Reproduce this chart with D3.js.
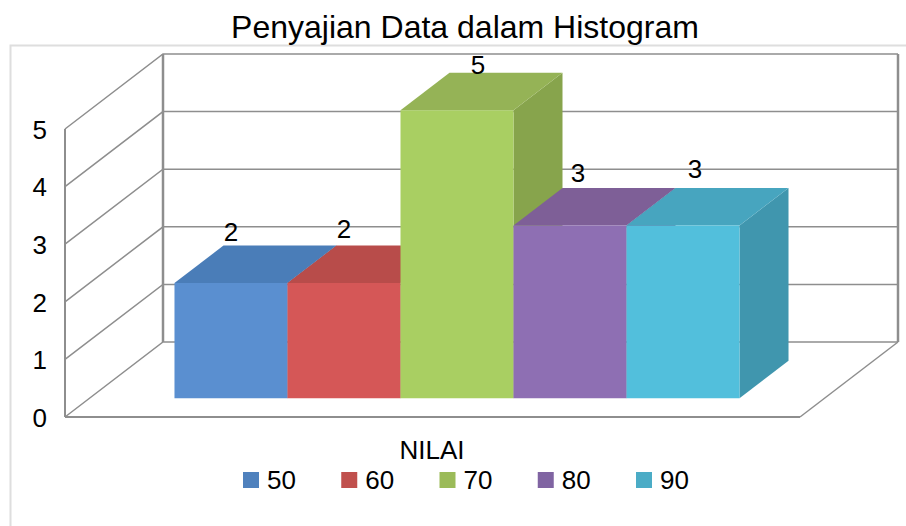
<!DOCTYPE html>
<html>
<head>
  <meta charset="utf-8" />
  <title>Penyajian Data dalam Histogram</title>
  <script src="https://cdnjs.cloudflare.com/ajax/libs/d3/7.8.5/d3.min.js"></script>
  <style>
    html, body { margin: 0; padding: 0; background: #fff; }
    svg { display: block; font-family: "Liberation Sans", Arial, sans-serif; }
    text { fill: #000; }
  </style>
</head>
<body>
  <svg id="chart" width="906" height="526"></svg>
  <script>
    const title = 'Penyajian Data dalam Histogram'
    const axisTitle = 'NILAI'
    const categories = ['50', '60', '70', '80', '90']
    const values = [2, 2, 5, 3, 3]
    const yTicks = [0, 1, 2, 3, 4, 5]

    const frontColors = ['#5a8fd0', '#d55757', '#a9cf62', '#8e6fb3', '#52bfdc']
    const topColors = ['#4a7db8', '#b84c4a', '#95b356', '#7e5f97', '#47a5bf']
    const sideColors = ['#426fa3', '#a34240', '#87a44c', '#705487', '#4096ae']
    const legendColors = ['#4f81bd', '#c0504d', '#9bbb59', '#8064a2', '#4bacc6']

    const svg = d3.select('#chart')

    // floor corner and the shift that takes the front plane to the back wall
    const originX = 65, originY = 417
    const floorWidth = 735
    const depthX = 98, depthY = -75
    const barDepthFrom = 0.25, barDepthTo = 0.75

    const x = d3.scaleBand().domain(categories).range([0, floorWidth]).paddingInner(0).paddingOuter(0.752)
    const y = d3.scaleLinear().domain([0, 5]).range([0, -288])

    // px = position along floor, v = value, d = depth 0 (front) to 1 (back)
    function project(px, v, d) {
      return [originX + px + depthX * d, originY + y(v) + depthY * d]
    }
    const poly = pts => 'M' + pts.map(p => p.join(',')).join('L') + 'Z'

    // outer frame
    svg.append('path')
      .attr('d', 'M10.5,526V45.5H906')
      .style('fill', 'none')
      .style('stroke', '#dedede')
      .style('stroke-width', 2)

    svg.append('text')
      .attr('x', 465).attr('y', 38)
      .attr('text-anchor', 'middle')
      .style('font-size', '32px')
      .text(title)

    // walls and floor
    const grey = '#8e8e8e'
    const walls = svg.append('g').attr('class', 'walls').style('fill', 'none').style('stroke', grey)

    walls.selectAll('path.grid')
      .data(yTicks)
      .enter()
      .append('path')
      .attr('class', 'grid')
      .attr('d', function(t) {
        const a = project(0, t, 0), b = project(0, t, 1), c = project(floorWidth, t, 1)
        return 'M' + [a, b, c].map(p => p.join(',')).join('L')
      })
      .style('stroke-width', 1.5)

    const wallLines = [
      [project(0, 0, 0), project(0, 5, 0), 2],
      [project(0, 0, 1), project(0, 5, 1), 2.5],
      [project(floorWidth, 0, 1), project(floorWidth, 5, 1), 2.5],
      [project(0, 0, 0), project(floorWidth, 0, 0), 2],
      [project(floorWidth, 0, 0), project(floorWidth, 0, 1), 1.5]
    ]
    walls.selectAll('line.edge')
      .data(wallLines)
      .enter()
      .append('line')
      .attr('class', 'edge')
      .attr('x1', d => d[0][0])
      .attr('y1', d => d[0][1])
      .attr('x2', d => d[1][0])
      .attr('y2', d => d[1][1])
      .style('stroke-width', d => d[2])

    // y axis, labels only
    const yAxis = d3.axisLeft(y).tickValues(yTicks).tickSize(0).tickPadding(18).tickFormat(d3.format('d'))
    const yAxisG = svg.append('g')
      .attr('transform', 'translate(' + originX + ',' + (originY + 1) + ')')
      .call(yAxis)
    yAxisG.select('path.domain').remove()
    yAxisG.selectAll('text')
      .style('font-size', '26px')
      .style('font-family', '"Liberation Sans", Arial, sans-serif')
      .style('fill', '#000')

    // bars, left to right so the next one covers the side of the one before
    const bars = svg.selectAll('g.bar')
      .data(categories)
      .enter()
      .append('g')
      .attr('class', 'bar')

    bars.each(function(c, i) {
      const g = d3.select(this)
      const x0 = x(c), x1 = x(c) + x.bandwidth(), v = values[i]
      const d0 = barDepthFrom, d1 = barDepthTo
      g.append('path')
        .attr('d', poly([project(x1, 0, d0), project(x1, 0, d1), project(x1, v, d1), project(x1, v, d0)]))
        .style('fill', sideColors[i])
      g.append('path')
        .attr('d', poly([project(x0, v, d0), project(x0, v, d1), project(x1, v, d1), project(x1, v, d0)]))
        .style('fill', topColors[i])
      g.append('path')
        .attr('d', poly([project(x0, 0, d0), project(x1, 0, d0), project(x1, v, d0), project(x0, v, d0)]))
        .style('fill', frontColors[i])
    })

    // data labels sit by hand in the original, so each has its own nudge
    const labelNudge = [[0, -42], [0, -45], [21, -36], [8, -43], [12, -47]]
    svg.selectAll('text.value')
      .data(values)
      .enter()
      .append('text')
      .attr('class', 'value')
      .attr('text-anchor', 'middle')
      .attr('x', (v, i) => project(x(categories[i]) + x.bandwidth() / 2, v, barDepthFrom)[0] + labelNudge[i][0])
      .attr('y', (v, i) => project(0, v, barDepthFrom)[1] + labelNudge[i][1])
      .style('font-size', '26px')
      .text(v => v)

    svg.append('text')
      .attr('x', 432).attr('y', 459)
      .attr('text-anchor', 'middle')
      .style('font-size', '26px')
      .text(axisTitle)

    // legend
    const legendX = d3.scalePoint().domain(categories).range([243, 636])
    const legend = svg.selectAll('g.legend')
      .data(categories)
      .enter()
      .append('g')
      .attr('class', 'legend')
      .attr('transform', c => 'translate(' + legendX(c) + ',472)')
    legend.append('rect')
      .attr('width', 16).attr('height', 16)
      .style('fill', (c, i) => legendColors[i])
    legend.append('text')
      .attr('x', 24).attr('y', 17)
      .style('font-size', '26px')
      .text(c => c)
  </script>
</body>
</html>
